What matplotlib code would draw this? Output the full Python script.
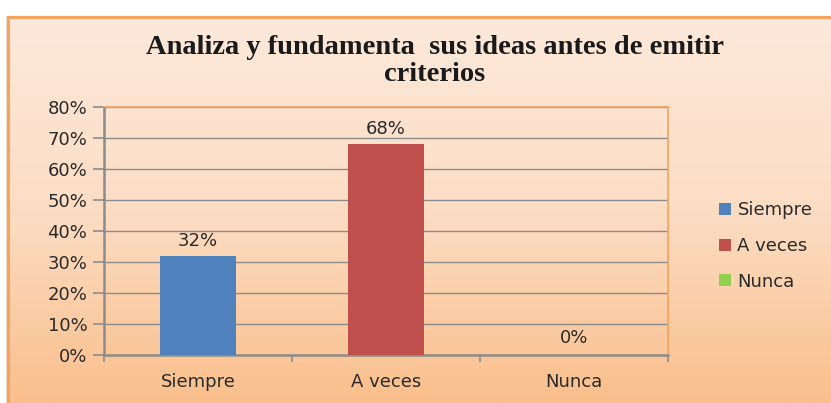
import matplotlib
matplotlib.use("Agg")
import matplotlib.pyplot as plt
import numpy as np
from matplotlib.patches import Rectangle
from matplotlib.colors import LinearSegmentedColormap

categories = ["Siempre", "A veces", "Nunca"]
values = [32, 68, 0]
labels = ["32%", "68%", "0%"]
colors = ["#4F81BD", "#C0504D", "#92D050"]
yticks = [0, 10, 20, 30, 40, 50, 60, 70, 80]
title = "Analiza y fundamenta  sus ideas antes de emitir\ncriterios"

plt.rcParams["font.family"] = ["DejaVu Sans"]

W, H = 831, 403
fig = plt.figure(figsize=(W / 100, H / 100), dpi=100)
fig.patch.set_facecolor("white")

def fx(px):
    return px / W

def fy(py):
    return 1 - py / H

# Outer frame with gradient
bg = fig.add_axes([fx(9), 0, 1 - fx(9), fy(18)])
bg.set_axis_off()
grad = np.linspace(0, 1, 256).reshape(-1, 1)
cmap = LinearSegmentedColormap.from_list("peach", ["#FDE9DB", "#FCDDC4", "#FABF8C"])
bg.imshow(grad, aspect="auto", cmap=cmap, extent=[0, 1, 0, 1], origin="upper")
bg.set_xlim(0, 1)
bg.set_ylim(0, 1)
fig.patches.append(Rectangle((fx(8), -0.1), 1.2, fy(17) + 0.1, transform=fig.transFigure,
                             fill=False, edgecolor="#F4A460", linewidth=2.2, zorder=5))
fig.patches.append(Rectangle((fx(6), -0.1), fx(2), fy(17) + 0.1, transform=fig.transFigure,
                             facecolor="#E8C9A6", edgecolor="none", zorder=4, alpha=0.6))

# Title
fig.text(fx(435), fy(61), title, ha="center", va="center", fontsize=20.5,
         fontweight="bold", family="Liberation Serif", color="#1a1a1a", linespacing=1.1)

FS = 13

# Plot area
ax = fig.add_axes([fx(104), fy(355), fx(668 - 104), fy(107) - fy(355)])
ax.set_facecolor("none")
x = np.arange(len(categories))
ax.bar(x, values, width=0.4, color=colors, zorder=3)
ax.set_xlim(-0.5, 2.5)
ax.set_ylim(0, 80)
ax.set_yticks(yticks)
ax.set_yticklabels([f"{t}%" for t in yticks])
ax.yaxis.grid(True, color="#8C8C8C", linewidth=1.0, zorder=0)
ax.set_xticks(x)
ax.set_xticklabels(categories)
ax.set_xticks([-0.5, 0.5, 1.5, 2.5], minor=True)
ax.tick_params(axis="x", which="major", length=0, pad=13, labelsize=FS)
ax.tick_params(axis="x", which="minor", length=5, color="#8C8C8C", width=1.2)
ax.tick_params(axis="y", length=8, color="#8C8C8C", width=1.2, pad=4, labelsize=FS)
for lab in ax.get_xticklabels() + ax.get_yticklabels():
    lab.set_color("#2a2a2a")
for s in ["left", "bottom"]:
    ax.spines[s].set_color("#8C8C8C")
    ax.spines[s].set_linewidth(1.8)
for s in ["top", "right"]:
    ax.spines[s].set_color("#F7A15A")
    ax.spines[s].set_linewidth(1.2)

for xi, v, lab in zip(x, values, labels):
    ax.text(xi, v + 2.0 if v > 0 else v + 2.5, lab, ha="center", va="bottom",
            fontsize=FS, color="#2a2a2a")

# Legend
handles = [Rectangle((0, 0), 1, 1, facecolor=c, edgecolor="none") for c in colors]
leg = fig.legend(handles, categories, loc="center left", bbox_to_anchor=(fx(703), fy(246)),
                 frameon=False, fontsize=FS, handlelength=0.66, handleheight=0.66,
                 handletextpad=0.35, labelspacing=0.97)
for t in leg.get_texts():
    t.set_color("#2a2a2a")

fig.savefig("out.png", dpi=100)
